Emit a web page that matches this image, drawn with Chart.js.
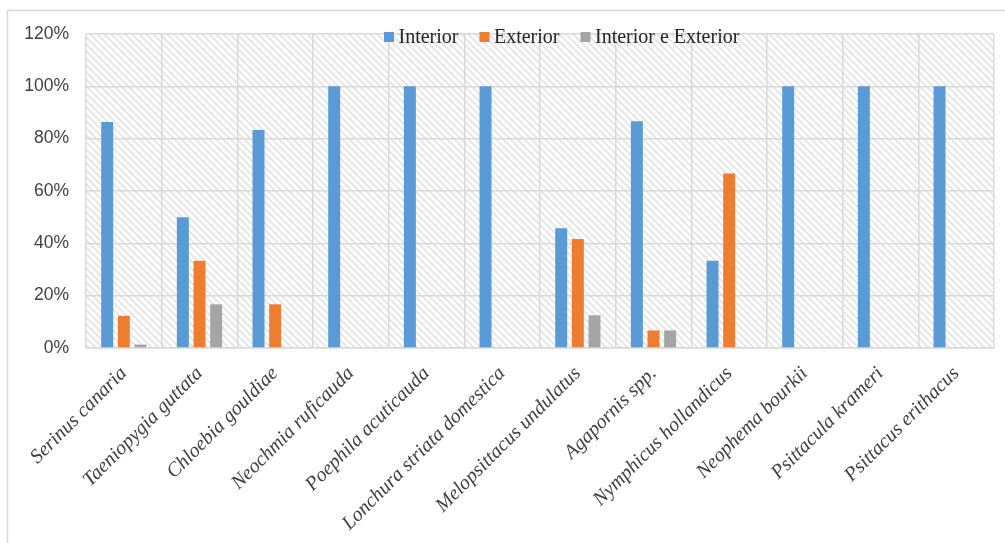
<!DOCTYPE html>
<html>
<head>
<meta charset="utf-8">
<title>Local de alojamento por espécie</title>
<script src="https://cdn.jsdelivr.net/npm/chart.js@4/dist/chart.umd.min.js"></script>
<style>
  html, body { margin: 0; padding: 0; background: #ffffff; }
  #wrap { width: 1005px; height: 543px; position: relative; overflow: hidden; }
  canvas { display: block; }
</style>
</head>
<body>
<div id="wrap"><canvas id="chart" width="1005" height="543"></canvas></div>
<script>
// Species (categories)
const species = [
  'Serinus canaria', 'Taeniopygia guttata', 'Chloebia gouldiae', 'Neochmia ruficauda',
  'Poephila acuticauda', 'Lonchura striata domestica', 'Melopsittacus undulatus',
  'Agapornis spp.', 'Nymphicus hollandicus', 'Neophema bourkii', 'Psittacula krameri',
  'Psittacus erithacus'
];

// Series names
const seriesNames = ['Interior', 'Exterior', 'Interior e Exterior'];

// Percentage of birds kept in each location
const interior         = [86.4, 50.0, 83.3, 100, 100, 100, 45.8, 86.7, 33.3, 100, 100, 100];
const exterior         = [12.3, 33.3, 16.7, 0, 0, 0, 41.7, 6.7, 66.7, 0, 0, 0];
const interiorExterior = [1.3, 16.7, 0, 0, 0, 0, 12.5, 6.7, 0, 0, 0, 0];

// Y axis ticks (%)
const yTicks = [0, 20, 40, 60, 80, 100, 120];

const seriesColors = ['#5B9BD5', '#ED7D31', '#A5A5A5'];
const gridColor = '#d9d9d9';

// Diagonal hatch used as plot-area background
function makeHatch(ctx) {
  const size = 7;
  const c = document.createElement('canvas');
  c.width = size; c.height = size;
  const g = c.getContext('2d');
  g.fillStyle = '#ffffff';
  g.fillRect(0, 0, size, size);
  g.strokeStyle = '#e4e4e4';
  g.lineWidth = 1.8;
  g.beginPath();
  g.moveTo(-2, -2); g.lineTo(size + 2, size + 2);
  g.moveTo(-2, size - 2); g.lineTo(2, size + 2);
  g.moveTo(size - 2, -2); g.lineTo(size + 2, 2);
  g.stroke();
  return ctx.createPattern(c, 'repeat');
}

const frameAndBackground = {
  id: 'frameAndBackground',
  beforeDraw(chart) {
    const { ctx, chartArea: a } = chart;
    ctx.save();
    // outer frame (top and left edges visible)
    ctx.strokeStyle = '#d9d9d9';
    ctx.lineWidth = 1.5;
    ctx.beginPath();
    ctx.moveTo(7.5, 600);
    ctx.lineTo(7.5, 10.5);
    ctx.lineTo(1100, 10.5);
    ctx.stroke();
    // hatched plot area
    ctx.fillStyle = makeHatch(ctx);
    ctx.fillRect(a.left, a.top, a.right - a.left, a.bottom - a.top);
    ctx.restore();
  }
};

// Legend drawn inside the top of the plot area
const insideLegend = {
  id: 'insideLegend',
  afterDraw(chart) {
    const { ctx } = chart;
    ctx.save();
    ctx.font = '20px "Liberation Serif", "Times New Roman", serif';
    ctx.textBaseline = 'middle';
    ctx.textAlign = 'left';
    let x = 384;
    const yMid = 37;
    const box = 10;
    chart.data.datasets.forEach((ds, i) => {
      ctx.fillStyle = ds.backgroundColor;
      ctx.fillRect(x, yMid - box / 2, box, box);
      x += box + 4.5;
      ctx.fillStyle = '#262626';
      ctx.fillText(ds.label, x, yMid + 1);
      x += ctx.measureText(ds.label).width + 21;
    });
    ctx.restore();
  }
};

new Chart(document.getElementById('chart'), {
  type: 'bar',
  data: {
    labels: species,
    datasets: [
      { label: seriesNames[0], data: interior, backgroundColor: seriesColors[0] },
      { label: seriesNames[1], data: exterior, backgroundColor: seriesColors[1] },
      { label: seriesNames[2], data: interiorExterior, backgroundColor: seriesColors[2] }
    ]
  },
  options: {
    responsive: false,
    animation: false,
    devicePixelRatio: 1,
    layout: { padding: { left: 0, top: 34, right: 11, bottom: 0 } },
    datasets: {
      bar: { categoryPercentage: 0.66, barPercentage: 0.72 }
    },
    plugins: {
      legend: { display: false },
      tooltip: { enabled: false }
    },
    scales: {
      x: {
        grid: { color: gridColor, lineWidth: 1.5, drawTicks: false, offset: true },
        border: { color: gridColor, width: 1.5 },
        ticks: {
          autoSkip: false,
          maxRotation: 45,
          minRotation: 45,
          padding: 14,
          color: '#404040',
          font: { family: '"Liberation Serif", "Times New Roman", serif', size: 20, style: 'italic' }
        },
        afterFit(scale) { scale.height = 195; }
      },
      y: {
        min: 0,
        max: 120,
        afterBuildTicks(scale) { scale.ticks = yTicks.map(v => ({ value: v })); },
        grid: { color: gridColor, lineWidth: 1.5, drawTicks: false },
        border: { display: false },
        ticks: {
          padding: 17,
          color: '#404040',
          font: { family: '"Liberation Sans", Arial, sans-serif', size: 17.5 },
          callback: v => v + '%'
        },
        afterFit(scale) { scale.width = 86; }
      }
    }
  },
  plugins: [frameAndBackground, insideLegend]
});
</script>
</body>
</html>
